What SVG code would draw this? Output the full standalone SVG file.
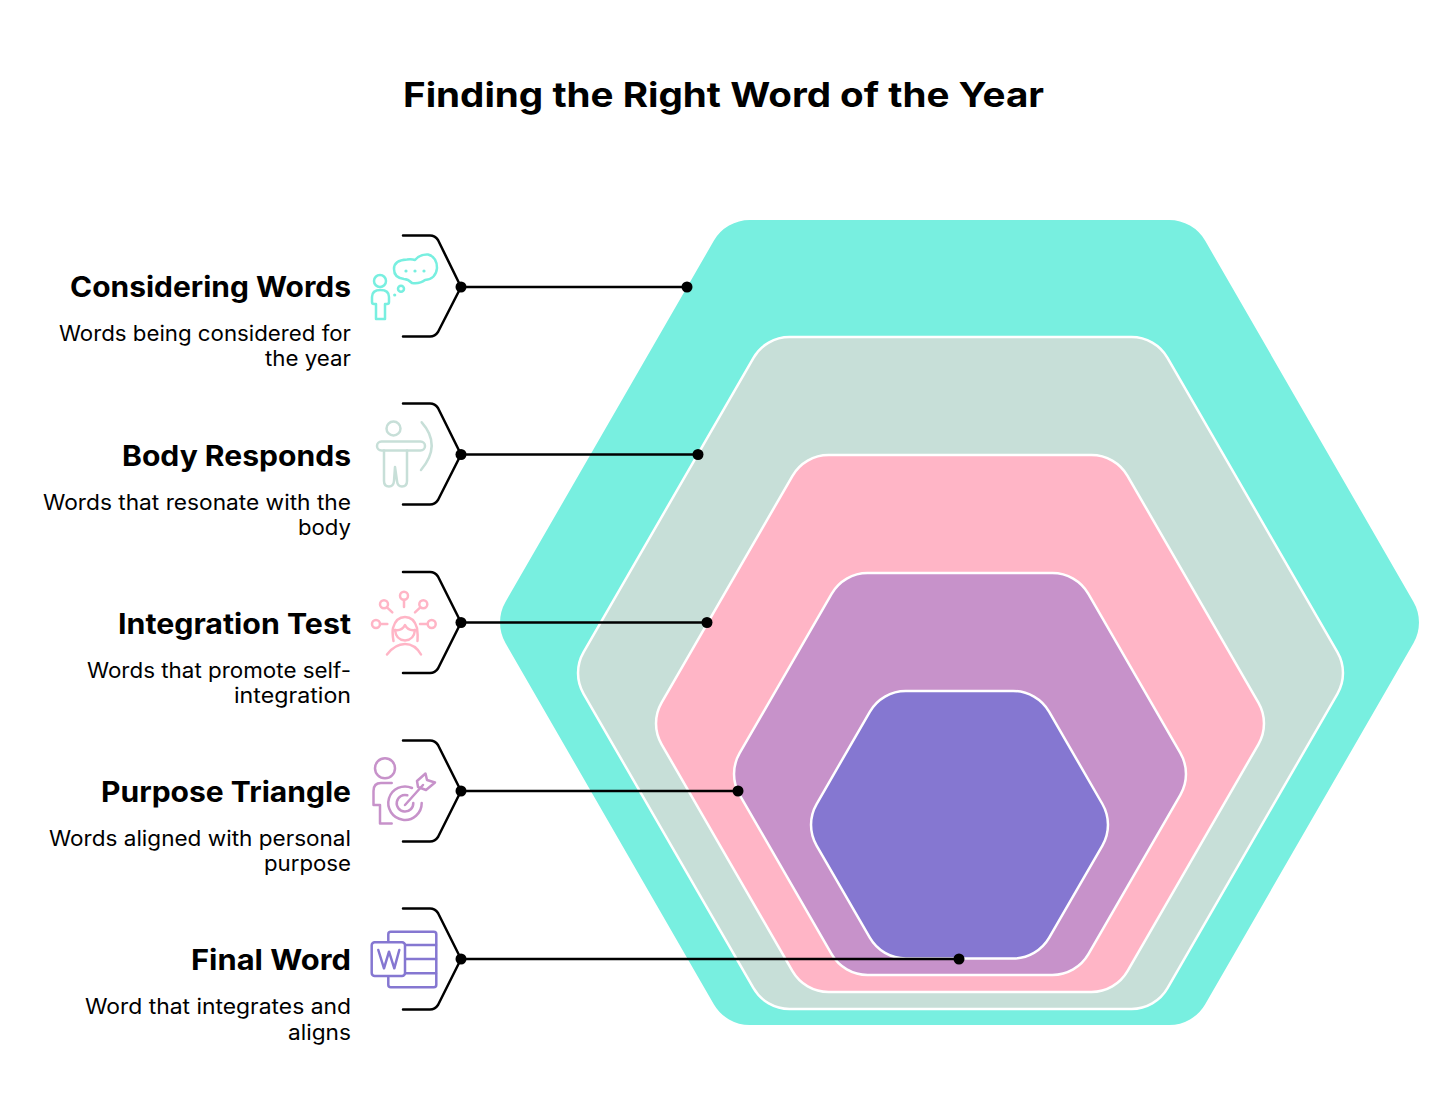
<svg xmlns="http://www.w3.org/2000/svg" width="1456" height="1112" viewBox="0 0 1456 1112">
<style>
text{font-family:"Inter","Liberation Sans",sans-serif;text-anchor:end;fill:#000}
.t{font-size:34px;font-weight:700;text-anchor:start}
.h{font-size:28px;font-weight:700}
.d{font-size:21px;font-weight:400}
.hx{stroke:#fff;stroke-width:2.5}
.c{fill:none;stroke:#000;stroke-width:2.5;stroke-linecap:round;stroke-linejoin:round}
.i{fill:none;stroke-width:2.5;stroke-linecap:round;stroke-linejoin:round}
</style>
<rect width="1456" height="1112" fill="#fff"/>
<text class="t" x="403" y="107" textLength="641" lengthAdjust="spacingAndGlyphs">Finding the Right Word of the Year</text>
<g id="hexagons">
<path id="hex1" fill="#78EFE0" d="M749.8,220H1169.2A41.6,41.6 0 0 1 1205.2,240.8L1413.4,601.7A41.6,41.6 0 0 1 1413.4,643.3L1205.2,1004.2A41.6,41.6 0 0 1 1169.2,1025H749.8A41.6,41.6 0 0 1 713.8,1004.2L505.6,643.3A41.6,41.6 0 0 1 505.6,601.7L713.8,240.8A41.6,41.6 0 0 1 749.8,220Z"/>
<path id="hex2" class="hx" fill="#C7DFD8" d="M789.5,337H1131.5A41.6,41.6 0 0 1 1167.5,357.8L1337.4,652.2A41.6,41.6 0 0 1 1337.4,693.8L1167.5,988.2A41.6,41.6 0 0 1 1131.5,1009H789.5A41.6,41.6 0 0 1 753.5,988.2L583.6,693.8A41.6,41.6 0 0 1 583.6,652.2L753.5,357.8A41.6,41.6 0 0 1 789.5,337Z"/>
<path id="hex3" class="hx" fill="#FFB5C6" d="M828.5,455H1091.5A41.6,41.6 0 0 1 1127.5,475.8L1258.4,702.7A41.6,41.6 0 0 1 1258.4,744.3L1127.5,971.2A41.6,41.6 0 0 1 1091.5,992H828.5A41.6,41.6 0 0 1 792.5,971.2L661.6,744.3A41.6,41.6 0 0 1 661.6,702.7L792.5,475.8A41.6,41.6 0 0 1 828.5,455Z"/>
<path id="hex4" class="hx" fill="#C792CA" d="M867.6,573H1052.4A41.6,41.6 0 0 1 1088.4,593.8L1180.4,753.2A41.6,41.6 0 0 1 1180.4,794.8L1088.4,954.2A41.6,41.6 0 0 1 1052.4,975H867.6A41.6,41.6 0 0 1 831.6,954.2L739.6,794.8A41.6,41.6 0 0 1 739.6,753.2L831.6,593.8A41.6,41.6 0 0 1 867.6,573Z"/>
<path id="hex5" class="hx" fill="#8577D1" d="M905.8,691H1013.2A41.6,41.6 0 0 1 1049.2,711.8L1102.4,804A41.6,41.6 0 0 1 1102.4,845.6L1049.2,937.7A41.6,41.6 0 0 1 1013.2,958.5H905.8A41.6,41.6 0 0 1 869.8,937.7L816.6,845.6A41.6,41.6 0 0 1 816.6,804L869.8,711.8A41.6,41.6 0 0 1 905.8,691Z"/>
</g>
<g id="node-considering">
<text class="h" x="351" y="297" textLength="281" lengthAdjust="spacingAndGlyphs">Considering Words</text>
<text class="d" x="351" y="341" textLength="292" lengthAdjust="spacingAndGlyphs">Words being considered for</text>
<text class="d" x="351" y="366" textLength="86" lengthAdjust="spacingAndGlyphs">the year</text>
<g class="i" stroke="#78EFE0">
<circle cx="380" cy="281" r="6"/>
<path d="M376,319V304H374Q372,304 372,302V297Q372,290 380.5,290Q389,290 389,297V302Q389,304 387,304H385V319Z"/>
<path d="M407,259.5Q412,259 415,260Q420,254 428,254.5Q437,257 437,268Q436,279 425,280Q420,284 412,283Q408,279 404,279Q394,278 394,269Q394,260 407,259.5Z"/>
<circle cx="401" cy="288.7" r="3"/>
</g>
<g fill="#78EFE0"><circle cx="406" cy="271" r="1.6"/><circle cx="415" cy="271" r="1.6"/><circle cx="424" cy="271" r="1.6"/><circle cx="394.7" cy="295" r="1.6"/></g>
</g>
<g id="node-body">
<text class="h" x="351" y="465.5" textLength="229" lengthAdjust="spacingAndGlyphs">Body Responds</text>
<text class="d" x="351" y="510" textLength="308" lengthAdjust="spacingAndGlyphs">Words that resonate with the</text>
<text class="d" x="351" y="535" textLength="53" lengthAdjust="spacingAndGlyphs">body</text>
<g class="i" stroke="#C7DFD8">
<circle cx="393.5" cy="428.5" r="7"/>
<rect x="377" y="441.5" width="48" height="9" rx="4.5"/>
<path d="M384,450.5V481Q384,486.500 389,486.500Q393.500,486.500 394,481L395,467L397,481Q397.500,486.500 402,486.500Q407,486.500 407,481V450.500"/>
<path d="M421.700,422.300Q442,445 421,470"/>
</g>
</g>
<g id="node-integration">
<text class="h" x="351" y="633.5" textLength="233" lengthAdjust="spacingAndGlyphs">Integration Test</text>
<text class="d" x="351" y="678" textLength="264" lengthAdjust="spacingAndGlyphs">Words that promote self-</text>
<text class="d" x="351" y="703" textLength="117" lengthAdjust="spacingAndGlyphs">integration</text>
<g class="i" stroke="#FFB5C6">
<circle cx="404" cy="595.700" r="4"/><path d="M404,600V607"/>
<circle cx="384" cy="604.300" r="4"/><path d="M387,607.300L392.300,612.300"/>
<circle cx="423.300" cy="604.300" r="4"/><path d="M420.300,607.300L415,612.300"/>
<circle cx="376" cy="624" r="4"/><path d="M380,624H387.300"/>
<circle cx="431.700" cy="624" r="4"/><path d="M427.700,624H420"/>
<path d="M393.500,641Q392,632 393,628Q396,617 405,617Q414,617 417,628Q418,635 417.500,641"/>
<path d="M395,630Q402,631 405,625Q408,631 415,630"/>
<path d="M395,630Q396,640 405,640.500Q414,640 415,630"/>
<path d="M387,654.500Q395,644 405,644Q415,644 421,654.500"/>
</g>
</g>
<g id="node-purpose">
<text class="h" x="351" y="802" textLength="250" lengthAdjust="spacingAndGlyphs">Purpose Triangle</text>
<text class="d" x="351" y="846" textLength="302" lengthAdjust="spacingAndGlyphs">Words aligned with personal</text>
<text class="d" x="351" y="871" textLength="87" lengthAdjust="spacingAndGlyphs">purpose</text>
<g class="i" stroke="#C792CA">
<circle cx="385" cy="768.300" r="10"/>
<path d="M391.700,783H381Q373.500,783 373.500,791V805H380V823.500H391.700"/>
<path d="M412,788A16.700,16.700 0 1 0 421.700,803"/>
<path d="M407.300,795.300A8.300,8.300 0 1 0 413.300,803"/>
<path d="M405,805L423,785"/>
<path d="M417,781L425.500,773.500L427,780L435,782.500L426,790L418,787Z"/>
</g>
</g>
<g id="node-final">
<text class="h" x="351" y="970" textLength="160" lengthAdjust="spacingAndGlyphs">Final Word</text>
<text class="d" x="351" y="1014" textLength="266" lengthAdjust="spacingAndGlyphs">Word that integrates and</text>
<text class="d" x="351" y="1040" textLength="63" lengthAdjust="spacingAndGlyphs">aligns</text>
<g class="i" stroke="#8577D1">
<rect x="388.300" y="931.700" width="48" height="55.600" rx="2.500"/>
<path d="M405,945H436M405,959H436M405,973.300H436"/>
<rect x="371.700" y="942.300" width="33.300" height="33.700" rx="3" fill="#fff"/>
<path d="M378.300,950L384,968.300L389,951.700L394.300,968.300L399.300,950"/>
</g>
</g>
<g id="connectors">
<path class="c" d="M403,235.500H430Q435,235.500 438,240L461,287L438,332Q435,336.500 430,336.500H403M461,287H687"/>
<path class="c" d="M403,403.500H430Q435,403.500 438,408L461,454.500L438,500Q435,504.500 430,504.500H403M461,454.500H698"/>
<path class="c" d="M403,572H430Q435,572 438,576.500L461,622.500L438,668.500Q435,673 430,673H403M461,622.500H707"/>
<path class="c" d="M403,740.500H430Q435,740.500 438,745L461,791L438,837Q435,841.500 430,841.500H403M461,791H738"/>
<path class="c" d="M403,908.500H430Q435,908.500 438,913L461,959L438,1005Q435,1009.500 430,1009.500H403M461,959H959"/>
<g fill="#000">
<circle cx="461" cy="287" r="5.500"/><circle cx="687" cy="287" r="5.500"/>
<circle cx="461" cy="454.500" r="5.500"/><circle cx="698" cy="454.500" r="5.500"/>
<circle cx="461" cy="622.500" r="5.500"/><circle cx="707" cy="622.500" r="5.500"/>
<circle cx="461" cy="791" r="5.500"/><circle cx="738" cy="791" r="5.500"/>
<circle cx="461" cy="959" r="5.500"/><circle cx="959" cy="959" r="5.500"/>
</g>
</g>
</svg>
